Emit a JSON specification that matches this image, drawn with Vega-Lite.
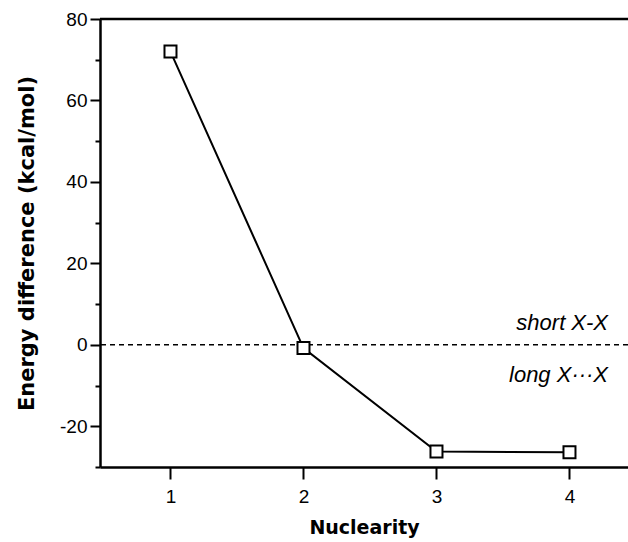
{
  "$schema": "https://vega.github.io/schema/vega-lite/v6.json",
  "width": 528,
  "height": 448,
  "autosize": "none",
  "padding": {"left": 100, "top": 19, "right": 0, "bottom": 75},
  "background": "white",
  "config": {
    "view": {"stroke": null},
    "font": "Liberation Sans",
    "axis": {
      "grid": false,
      "domainColor": "black",
      "tickColor": "black",
      "labelColor": "black",
      "titleColor": "black",
      "labelFont": "Liberation Sans",
      "titleFont": "DejaVu Sans"
    }
  },
  "datasets": {
    "points": [
      {"n": 1, "e": 72.0},
      {"n": 2, "e": -0.8},
      {"n": 3, "e": -26.2},
      {"n": 4, "e": -26.4}
    ],
    "labels": [
      {"n": 4.29, "e": 3.7, "label": "short X-X"},
      {"n": 4.29, "e": -9.1, "label": "long X···X"}
    ],
    "one": [{}]
  },
  "resolve": {"axis": {"y": "independent"}},
  "layer": [
    {
      "data": {"name": "one"},
      "mark": {"type": "rule", "color": "black", "strokeWidth": 1.5, "strokeDash": [5, 4]},
      "encoding": {"y": {"datum": 0, "type": "quantitative", "axis": null}}
    },
    {
      "data": {"name": "one"},
      "mark": {"type": "rule", "color": "black", "strokeWidth": 2.5},
      "encoding": {"y": {"datum": 80, "type": "quantitative", "axis": null}}
    },
    {
      "data": {"name": "points"},
      "mark": {"type": "line", "color": "black", "strokeWidth": 2},
      "encoding": {
        "x": {
          "field": "n",
          "type": "quantitative",
          "scale": {"domain": [0.47, 4.44], "nice": false, "zero": false},
          "axis": {
            "values": [1, 2, 3, 4],
            "format": "d",
            "tickSize": 12,
            "tickWidth": 2,
            "domainWidth": 2.5,
            "labelFontSize": 19,
            "labelPadding": 8,
            "title": "Nuclearity",
            "titleFontSize": 19,
            "titleFontWeight": "bold",
            "titlePadding": 12
          }
        },
        "y": {
          "field": "e",
          "type": "quantitative",
          "scale": {"domain": [-30, 80], "nice": false, "zero": false},
          "axis": {
            "orient": "left",
            "values": [-20, 0, 20, 40, 60, 80],
            "labelExpr": "replace(datum.label, '−', '-')",
            "tickSize": 10,
            "tickWidth": 2,
            "domainWidth": 2.5,
            "labelFontSize": 19,
            "labelPadding": 3,
            "title": "Energy difference (kcal/mol)",
            "titleFontSize": 21,
            "titleFontWeight": "bold",
            "titlePadding": 22
          }
        }
      }
    },
    {
      "data": {"name": "points"},
      "mark": {"type": "point", "shape": "square", "filled": true, "fill": "white", "stroke": "black", "strokeWidth": 2, "size": 144, "opacity": 1},
      "encoding": {
        "x": {"field": "n", "type": "quantitative"},
        "y": {
          "field": "e",
          "type": "quantitative",
          "axis": {
            "orient": "left",
            "values": [-30, -10, 10, 30, 50, 70],
            "tickSize": 5,
            "tickWidth": 2,
            "labels": false,
            "domain": false,
            "title": null
          }
        }
      }
    },
    {
      "data": {"name": "labels"},
      "mark": {"type": "text", "align": "right", "baseline": "alphabetic", "fontStyle": "italic", "fontSize": 22, "font": "Liberation Sans", "color": "black"},
      "encoding": {
        "x": {"field": "n", "type": "quantitative"},
        "y": {"field": "e", "type": "quantitative", "axis": null},
        "text": {"field": "label"}
      }
    }
  ]
}
